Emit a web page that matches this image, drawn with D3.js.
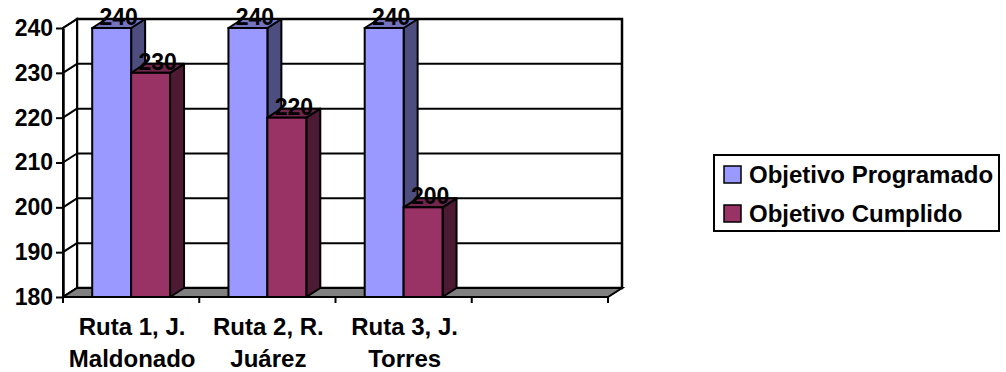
<!DOCTYPE html>
<html>
<head>
<meta charset="utf-8">
<script src="https://cdn.jsdelivr.net/npm/d3@7"></script>
<style>
  body { margin: 0; background: #fff; }
  text { font-family: "Liberation Sans", Arial, sans-serif; font-weight: bold; }
</style>
</head>
<body>
<script>
const categories = ["Ruta 1, J. Maldonado", "Ruta 2, R. Juárez", "Ruta 3, J. Torres", ""];
const categoryLines = [["Ruta 1, J.", "Maldonado"], ["Ruta 2, R.", "Juárez"], ["Ruta 3, J.", "Torres"], []];
const series = ["Objetivo Programado", "Objetivo Cumplido"];
const programado = [240, 240, 240, null];
const cumplido = [230, 220, 200, null];
const yTicks = [180, 190, 200, 210, 220, 230, 240];

const colors = {
    "Objetivo Programado": { front: "#9999FF", side: "#4D4D80", top: "#7373BF" },
    "Objetivo Cumplido": { front: "#993366", side: "#4D1A33", top: "#73264D" }
};

const margin = { left: 63, right: 398, top: 28, bottom: 75 };
const width = 1006, height = 372;
const dx = 14, dy = -9;

const svg = d3.select("body").append("svg")
    .attr("width", width)
    .attr("height", height);

const x0 = d3.scaleBand().domain(d3.range(categories.length)).range([margin.left, width - margin.right]);
const x1 = d3.scaleBand().domain(series).range([0, x0.bandwidth()]).paddingOuter(0.75);
const y = d3.scaleLinear().domain([180, 240]).range([height - margin.bottom, margin.top]);

const xl = x0.range()[0], xr = x0.range()[1];
const yb = y(180), yt = y(240);

// back wall
svg.append("rect")
    .attr("x", xl + dx).attr("y", yt + dy)
    .attr("width", xr - xl).attr("height", yb - yt)
    .attr("fill", "#fff").attr("stroke", "#000").attr("stroke-width", 2.5);

svg.selectAll(".backGrid")
    .data(yTicks)
    .enter().append("line")
    .attr("x1", xl + dx).attr("x2", xr + dx)
    .attr("y1", d => y(d) + dy).attr("y2", d => y(d) + dy)
    .attr("stroke", "#000").attr("stroke-width", 2);

// left side wall
svg.append("path")
    .attr("d", `M${xl},${yb}L${xl},${yt}L${xl + dx},${yt + dy}L${xl + dx},${yb + dy}Z`)
    .attr("fill", "#fff").attr("stroke", "#000").attr("stroke-width", 2);

svg.selectAll(".sideGrid")
    .data(yTicks)
    .enter().append("line")
    .attr("x1", xl).attr("x2", xl + dx)
    .attr("y1", d => y(d)).attr("y2", d => y(d) + dy)
    .attr("stroke", "#000").attr("stroke-width", 2);

// floor
svg.append("path")
    .attr("d", `M${xl},${yb}L${xl + dx},${yb + dy}L${xr + dx},${yb + dy}L${xr},${yb}Z`)
    .attr("fill", "#808080").attr("stroke", "#000").attr("stroke-width", 2);

// y axis
const yAxis = svg.append("g")
    .attr("transform", `translate(${xl},0)`)
    .call(d3.axisLeft(y).tickValues(yTicks).tickSize(7).tickSizeOuter(0).tickPadding(3).tickFormat(d3.format("d")));
yAxis.select(".domain").attr("stroke-width", 2.5);
yAxis.selectAll(".tick line").attr("stroke-width", 2);
yAxis.selectAll(".tick text")
    .attr("font-size", "23px")
    .attr("fill", "#000")
    .attr("font-family", "'Liberation Sans', Arial, sans-serif");

// bars
const barData = [];
categories.forEach((c, i) => {
    if (programado[i] != null) barData.push({ cat: i, s: series[0], v: programado[i] });
    if (cumplido[i] != null) barData.push({ cat: i, s: series[1], v: cumplido[i] });
});

const bars = svg.selectAll(".bar")
    .data(barData)
    .enter().append("g")
    .attr("class", "bar");

bars.each(function(d) {
    const g = d3.select(this);
    const a = x0(d.cat) + x1(d.s);
    const b = a + x1.bandwidth();
    const t = y(d.v);
    g.append("path")
        .attr("d", `M${b},${t}L${b + dx},${t + dy}L${b + dx},${yb + dy}L${b},${yb}Z`)
        .attr("fill", colors[d.s].side).attr("stroke", "#000").attr("stroke-width", 2).attr("stroke-linejoin", "round");
    g.append("path")
        .attr("d", `M${a},${t}L${a + dx},${t + dy}L${b + dx},${t + dy}L${b},${t}Z`)
        .attr("fill", colors[d.s].top).attr("stroke", "#000").attr("stroke-width", 2).attr("stroke-linejoin", "round");
    g.append("rect")
        .attr("x", a).attr("y", t)
        .attr("width", b - a).attr("height", yb - t)
        .attr("fill", colors[d.s].front).attr("stroke", "#000").attr("stroke-width", 2);
});

// data labels
svg.selectAll(".barLabel")
    .data(barData)
    .enter().append("text")
    .attr("class", "barLabel")
    .attr("x", d => x0(d.cat) + x1(d.s) + x1.bandwidth() / 2 + dx / 2)
    .attr("y", d => y(d.v) - 3)
    .attr("text-anchor", "middle")
    .attr("font-size", "23px")
    .text(d => d.v);

// category ticks
const catTicks = x0.domain().map(i => x0(i)).concat([xr]);
svg.selectAll(".catTick")
    .data(catTicks)
    .enter().append("line")
    .attr("x1", d => d).attr("x2", d => d)
    .attr("y1", yb).attr("y2", yb + 6)
    .attr("stroke", "#000").attr("stroke-width", 2);

svg.append("line")
    .attr("x1", xl).attr("x2", xr)
    .attr("y1", yb).attr("y2", yb)
    .attr("stroke", "#000").attr("stroke-width", 2);

// category labels
const catLabels = svg.selectAll(".catLabel")
    .data(x0.domain())
    .enter().append("text")
    .attr("class", "catLabel")
    .attr("text-anchor", "middle")
    .attr("font-size", "24px");
catLabels.each(function(i) {
    const cx = x0(i) + x0.bandwidth() / 2 + 1;
    d3.select(this).selectAll("tspan")
        .data(categoryLines[i])
        .enter().append("tspan")
        .attr("x", cx)
        .attr("y", (d, k) => 335 + k * 32)
        .text(d => d);
});

// legend
const legend = svg.append("g").attr("transform", "translate(714,155)");
legend.append("rect")
    .attr("width", 285).attr("height", 76)
    .attr("fill", "#fff").attr("stroke", "#000").attr("stroke-width", 2);
const items = legend.selectAll(".legendItem")
    .data(series)
    .enter().append("g")
    .attr("class", "legendItem")
    .attr("transform", (d, i) => `translate(10,${28 + i * 39})`);
items.append("rect")
    .attr("x", 0).attr("y", -17)
    .attr("width", 17).attr("height", 17)
    .attr("fill", d => colors[d].front)
    .attr("stroke", "#000").attr("stroke-width", 1.5);
items.append("text")
    .attr("x", 25).attr("y", 0)
    .attr("font-size", "24px")
    .text(d => d);
</script>
</body>
</html>
